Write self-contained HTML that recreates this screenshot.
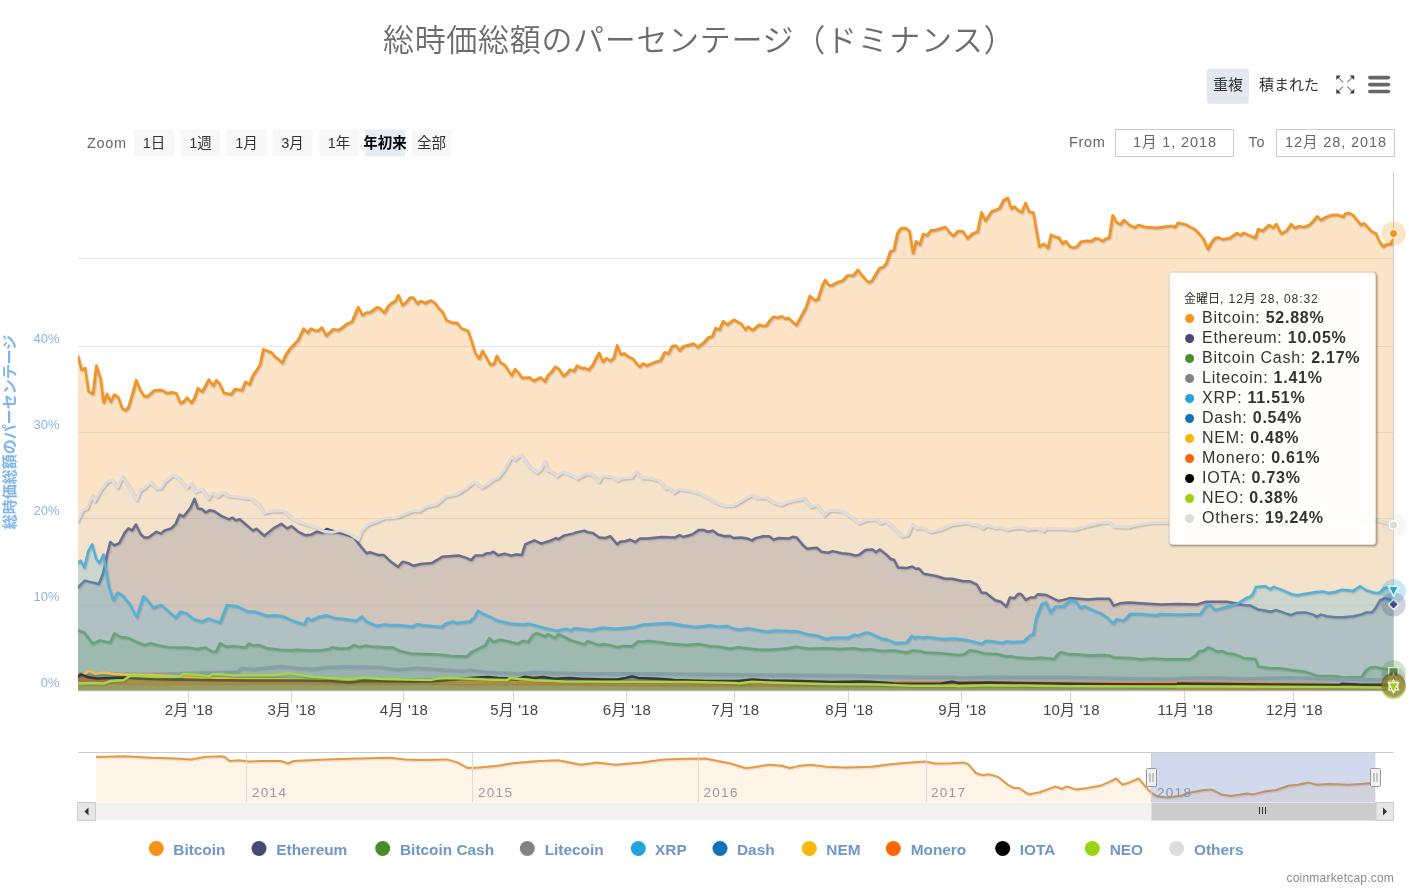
<!DOCTYPE html>
<html lang="ja"><head><meta charset="utf-8"><title>総時価総額のパーセンテージ（ドミナンス）</title>
<style>
html,body{margin:0;padding:0;background:#fff;}
body{width:1409px;height:891px;overflow:hidden;}
svg{display:block;font-family:"Liberation Sans", "Noto Sans CJK JP", sans-serif;}
text{white-space:pre;}
</style></head><body>
<svg width="1409" height="891" viewBox="0 0 1409 891">
<defs><clipPath id="pc"><rect x="78" y="172" width="1315.5" height="519"/></clipPath>
<clipPath id="nc"><rect x="96" y="752" width="1279.5" height="50"/></clipPath>
<filter id="sh" x="-5%" y="-5%" width="110%" height="112%"><feDropShadow dx="1" dy="1.5" stdDeviation="1.5" flood-color="#000" flood-opacity="0.28"/></filter>
</defs>
<rect x="0" y="0" width="1409" height="891" fill="#ffffff"/>

<text x="383" y="50.8" font-size="31" font-weight="350" fill="#6c6c6c" letter-spacing="0.68">総時価総額のパーセンテージ（ドミナンス）</text>
<rect x="1206.7" y="68.7" width="42.3" height="35" rx="3" fill="#e4e7ed"/>
<text x="1228" y="90" text-anchor="middle" font-size="15" fill="#333">重複</text>
<text x="1289" y="90" text-anchor="middle" font-size="15" fill="#333">積まれた</text>
<g stroke="#7a7a7a" stroke-width="1.1" fill="none" stroke-linecap="round">
<path d="M1342.7 81.9 L1337.5 76.7 M1347.7 81.9 L1352.9 76.7 M1342.7 86.9 L1337.5 92.1 M1347.7 86.9 L1352.9 92.1"/></g>
<g fill="#3a3a3a" stroke="none">
<path d="M1336.3 75.4 h4.6 l-4.6 4.6z"/>
<path d="M1354.2 75.4 v4.6 l-4.6 -4.6z"/>
<path d="M1336.3 93.4 v-4.6 l4.6 4.6z"/>
<path d="M1354.2 93.4 h-4.6 l4.6 -4.6z"/>
</g>
<g fill="#666"><rect x="1368" y="75.8" width="22.2" height="3.6" rx="1.8"/><rect x="1368" y="82.8" width="22.2" height="3.6" rx="1.8"/><rect x="1368" y="89.7" width="22.2" height="3.6" rx="1.8"/></g>
<text x="87" y="147.5" font-size="14.5" fill="#666" letter-spacing="0.7">Zoom</text>
<rect x="134" y="129.5" width="40" height="27" rx="2" fill="#f7f7f7"/>
<text x="154" y="147.5" text-anchor="middle" font-size="14.5" fill="#333" font-weight="normal">1日</text>
<rect x="180.5" y="129.5" width="40" height="27" rx="2" fill="#f7f7f7"/>
<text x="200.5" y="147.5" text-anchor="middle" font-size="14.5" fill="#333" font-weight="normal">1週</text>
<rect x="226.5" y="129.5" width="40" height="27" rx="2" fill="#f7f7f7"/>
<text x="246.5" y="147.5" text-anchor="middle" font-size="14.5" fill="#333" font-weight="normal">1月</text>
<rect x="272.5" y="129.5" width="40" height="27" rx="2" fill="#f7f7f7"/>
<text x="292.5" y="147.5" text-anchor="middle" font-size="14.5" fill="#333" font-weight="normal">3月</text>
<rect x="319" y="129.5" width="40" height="27" rx="2" fill="#f7f7f7"/>
<text x="339" y="147.5" text-anchor="middle" font-size="14.5" fill="#333" font-weight="normal">1年</text>
<rect x="365" y="129.5" width="40" height="27" rx="2" fill="#e6ebf5"/>
<text x="385" y="147.5" text-anchor="middle" font-size="14.5" fill="#000" font-weight="bold">年初来</text>
<rect x="411.5" y="129.5" width="40" height="27" rx="2" fill="#f7f7f7"/>
<text x="431.5" y="147.5" text-anchor="middle" font-size="14.5" fill="#333" font-weight="normal">全部</text>
<text x="1069" y="146.5" font-size="14.5" fill="#666" letter-spacing="0.7">From</text>
<rect x="1115.5" y="129.5" width="118" height="27" fill="#fff" stroke="#cccccc" stroke-width="1"/>
<text x="1175" y="146.5" text-anchor="middle" font-size="14.5" fill="#666" letter-spacing="0.9">1月 1, 2018</text>
<text x="1248.5" y="146.5" font-size="14.5" fill="#666" letter-spacing="0.7">To</text>
<rect x="1276.5" y="129.5" width="118" height="27" fill="#fff" stroke="#cccccc" stroke-width="1"/>
<text x="1336" y="146.5" text-anchor="middle" font-size="14.5" fill="#666" letter-spacing="0.9">12月 28, 2018</text>
<path d="M78 258.5 H1393.5" stroke="#e6e6e6" stroke-width="1" fill="none"/>
<path d="M78 346.5 H1393.5" stroke="#e6e6e6" stroke-width="1" fill="none"/>
<path d="M78 432.5 H1393.5" stroke="#e6e6e6" stroke-width="1" fill="none"/>
<path d="M78 518.5 H1393.5" stroke="#e6e6e6" stroke-width="1" fill="none"/>
<path d="M78 605 H1393.5" stroke="#e6e6e6" stroke-width="1" fill="none"/>
<text x="59.5" y="343.0" text-anchor="end" font-size="13" fill="#8db3e2">40%</text>
<text x="59.5" y="429.0" text-anchor="end" font-size="13" fill="#8db3e2">30%</text>
<text x="59.5" y="515.0" text-anchor="end" font-size="13" fill="#8db3e2">20%</text>
<text x="59.5" y="601.0" text-anchor="end" font-size="13" fill="#8db3e2">10%</text>
<text x="59.5" y="687.0" text-anchor="end" font-size="13" fill="#8db3e2">0%</text>
<text transform="translate(15,432) rotate(-90)" text-anchor="middle" font-size="15" font-weight="bold" fill="#7cb5ec">総時価総額のパーセンテージ</text>
<defs>
<path id="L0" d="M78 356.4 L81.4 369.6 L85 368.1 L88.6 391.5 L92.8 393.8 L96.3 365.7 L100.6 379 L103.5 402.4 L106.9 393.8 L110.5 401.6 L114.2 394.6 L118.3 397.4 L122 407.9 L125.3 410.5 L128.3 407.4 L132.6 393.1 L136.1 380.2 L140.5 390.7 L144.4 396.2 L147.5 396.2 L154.5 390.2 L161.5 389.9 L166.7 393.1 L172.5 392.3 L176.4 393.4 L180.3 403.2 L183.4 401.6 L187 397.7 L191.2 402.7 L193.9 399 L197.9 388.1 L202.1 391.8 L208.8 379.5 L213.1 386 L216.2 380.1 L219.3 383.4 L224 393.1 L231 394.3 L234.9 389.1 L241.9 390.2 L245.4 381.8 L249.4 384.5 L252.9 375.1 L256.8 369.6 L259.9 364.6 L263.3 349.3 L271.6 352.5 L275 356.8 L277.9 358.7 L282.1 362.9 L285.7 354.8 L289.6 349 L294.3 343.9 L298 340.3 L303.5 328.6 L307.7 332.8 L310.8 328.6 L315.2 330.6 L318.3 330.6 L321.9 327.5 L326.1 335.6 L333.1 329.3 L337.8 330.1 L340.9 328.6 L346.4 324.2 L351.9 321.5 L358.1 307.2 L362.3 315 L366.7 312.5 L370.1 312.2 L376.9 307.2 L380 308.3 L384.3 312.9 L387.8 306.7 L391.7 302.8 L395.1 301.2 L398.2 295 L402.3 305.1 L405.7 302.5 L409.6 297.8 L413.5 297.8 L417.4 303.6 L420.6 300.9 L424.8 303.1 L430.7 300.4 L434.6 302.8 L439.3 309 L442.9 312.5 L446.3 320.3 L452.6 322.8 L456.9 322.8 L461.2 328.1 L468.2 331.2 L471.3 340.3 L475.2 352.8 L478.8 358.7 L482.6 350.9 L490.4 364.9 L494 363.7 L496.8 355.9 L500.7 362.9 L504.9 365.2 L511.6 375.4 L515 369.1 L518 372.3 L521.9 377.7 L529.7 377.4 L533.3 380.9 L540.6 377.4 L544.9 381.6 L547.7 375.4 L551.1 372.3 L555.2 366.8 L558.9 369.1 L563.3 375.9 L566.4 373.8 L570 369.6 L573.9 371.2 L577 365.6 L581.2 368.1 L585.1 368.1 L588.6 369.9 L592.2 365.6 L598.9 352.8 L602.8 361.8 L606.2 358.2 L610.4 360.9 L613.6 358.2 L617.1 345.4 L620.7 354.3 L624.5 353.5 L628.1 356.7 L632.8 358.7 L636.7 363.7 L639.8 366.8 L642.9 363.4 L646.3 365.6 L655.4 361.8 L660.4 360.6 L664.5 352.3 L668.2 353.5 L671.8 346.5 L675.7 345.4 L679.6 350.4 L683.5 346.2 L693.7 343.7 L697.6 347.3 L703.8 342.6 L708.2 337.5 L712.1 336.4 L715.5 328.1 L719.4 329.6 L722.9 321.2 L727.2 324.6 L733.8 319.7 L738 322.1 L741.4 324 L745 329.4 L748.1 326.8 L752.4 330.2 L759.1 324.8 L763 325.9 L766.1 325.5 L770 320.1 L773.6 316.6 L777.8 317.7 L781.4 316.2 L784.8 318.5 L788.3 318 L796.1 325.2 L805.9 307.6 L809.8 295.9 L814.5 300.2 L817.9 299 L822.3 285.3 L825.1 280 L828.6 284.9 L831.7 285.4 L836.4 282.6 L842.6 280.6 L847 275.6 L853.5 275.3 L857.8 269.8 L862.9 276.4 L866.8 281 L869.2 282.3 L872 280.6 L879.3 268.1 L883.2 267 L886.3 263.4 L890.2 251.4 L893.8 249.8 L897.3 233.4 L899.6 229.5 L901.9 228 L905.8 228.3 L909.4 231.1 L912.9 252.9 L916 241.2 L919.9 244.7 L923 234.2 L926.9 235.3 L930.8 230.3 L934.4 230.3 L945.4 226.9 L949.6 232.6 L953.2 235.8 L958 230.9 L962.7 231.2 L967.4 238.2 L972.1 234 L977.5 231.4 L981.4 212.2 L985.3 220.7 L991.6 211.4 L999.4 208.3 L1003.3 200.4 L1007.7 197.8 L1011.1 208.3 L1014.5 206.7 L1018.6 210.9 L1021.7 212.2 L1025.5 203.1 L1029 211.8 L1033.3 212.5 L1039.2 246.5 L1043.6 243.7 L1047.8 248.1 L1050.9 234.8 L1055.6 237.1 L1058.7 237.5 L1062.3 243.4 L1065.7 241 L1069.6 246.5 L1073.5 247.6 L1076.7 246.8 L1080.6 241.8 L1087.6 240.7 L1091.5 241 L1095.1 238.2 L1098.5 238.7 L1102.4 241 L1105.6 238.7 L1109.1 237.6 L1112.6 215.3 L1116.5 222.3 L1120.4 224.3 L1123.8 220 L1129 224.6 L1134.4 227.5 L1138.3 225 L1145.4 227 L1157.1 227.8 L1165.7 226.5 L1171.1 225.9 L1175 227 L1178 222.8 L1185.4 224.4 L1189.5 226.6 L1194.4 229 L1198.5 233.1 L1203.4 238.9 L1207.8 249.2 L1211.6 242.1 L1214.9 238 L1218.2 237.5 L1222.3 239.2 L1229.6 238 L1237 233.1 L1240.3 235.3 L1243.6 232.8 L1255.1 238 L1258.3 229 L1262.4 231 L1269 224.9 L1272.8 227.7 L1276.4 224.1 L1281 233.6 L1286.2 231 L1291.1 224.1 L1294.7 228.2 L1298.5 226.2 L1304.2 226.9 L1309.2 224.9 L1313.3 220.8 L1317 216.2 L1320.6 220 L1325.6 217.1 L1331.3 215.1 L1337 214.8 L1342.8 216.7 L1345.6 213.4 L1349.3 213 L1353.4 215.6 L1360.8 224.9 L1364.1 223.3 L1371.5 231.5 L1375.6 233.1 L1379.3 241.3 L1382.9 246.7 L1386.2 244.6 L1390.3 244.1 L1393.1 239.7 L1393.5 233.6"/>
<path id="L1" d="M78 587.4 L84.8 580.6 L91.6 582.4 L98.9 584 L103 573.8 L107.1 554.5 L110.2 542 L114.3 545.4 L119.3 543.1 L124.6 532.9 L128.4 528.4 L132.1 530.6 L135.9 524.5 L140.5 534 L143.9 537.4 L148.4 537.4 L156.4 531.8 L160.9 533.6 L164.3 530.6 L171.1 528.4 L175.7 523.8 L179.5 514.7 L183.6 516.5 L190.4 507.9 L194.5 498.8 L197.9 508.6 L201.8 509 L205.6 512.5 L209.7 510.2 L214.3 511.3 L221.1 515.9 L229 519.3 L232.4 517.7 L235.8 520.4 L239.7 519.3 L244.9 523.8 L252.9 530.6 L256.3 528.8 L264.2 535.8 L273.3 528.4 L281.3 523.8 L286.9 528.4 L291.5 526.1 L298.3 531.8 L305.1 535.2 L310.8 534.7 L316.5 531.8 L322.1 532.9 L326.7 529 L333.5 531.3 L346 534.5 L353.9 537.4 L360.8 546.5 L366.4 553.3 L369.8 552.2 L377.8 554.9 L383.5 554.9 L390.3 561.3 L398 567 L402.5 561.7 L408.2 563.1 L413.4 565.8 L420.7 564 L432.1 562.9 L442.3 556.7 L459.3 555.6 L466.1 557.9 L471.1 560.1 L475.2 555.6 L483.2 555.2 L486.6 553.3 L490 553.3 L493.4 551.7 L497.9 555.2 L504.7 553.8 L511.6 555.6 L516.1 554.5 L521.8 554.9 L525.2 544.3 L534.3 540.4 L541.1 543.6 L550.2 540.8 L555.8 538.1 L558.1 539.3 L563.8 535.6 L572.9 533.6 L576.3 532.4 L584.2 530.6 L587.6 532.2 L592.9 532.9 L599 537.4 L604.7 538.1 L610.3 536.3 L617.2 544.3 L620.6 541.5 L625.1 541.3 L629.7 539.7 L635.3 542 L639.9 538.6 L647.8 538.6 L661.4 537 L675.1 537.4 L679.6 535.2 L683 537 L692.1 534.5 L698.9 529.9 L703.5 529.9 L708 531.8 L712.5 530.6 L718 534.5 L724.8 536.3 L729.4 535.8 L733.9 538.1 L740.7 537.4 L747.5 538.6 L752.1 540.4 L755.5 538.1 L763.4 536.3 L769.1 536.3 L773.6 539.7 L778.2 538.1 L788.4 538.6 L792.9 536.8 L796.4 537.4 L803.2 545.4 L807 548.8 L816.8 547.7 L821.3 551.7 L828.1 552.7 L832.7 551.1 L841.8 553.3 L849.7 554 L855.4 555.6 L858.8 554.9 L865.6 549.9 L872.4 549.5 L875.8 552.2 L879.7 549.5 L886.1 554.5 L890.6 559 L894 559.7 L897.9 567.4 L906.5 568.1 L912.2 566.5 L915.6 568.8 L919 568.6 L923.5 573.8 L936 576 L945.1 578.8 L951.9 578.8 L963.3 581.3 L970.1 581.3 L976.9 584.7 L981.4 592.6 L986 593.1 L995.1 600.3 L1000.8 601.7 L1006.4 606.7 L1009.8 597.6 L1014.4 598.3 L1018.2 593.8 L1021.2 594.2 L1025.7 599.9 L1030.3 597.6 L1034.8 597.2 L1038 594.2 L1045.9 594.9 L1051.6 597.6 L1058.4 601 L1063 599.9 L1069.8 598.1 L1078.9 598.8 L1088 599.4 L1097 598.8 L1109.5 598.8 L1113.6 605.6 L1119.8 603.3 L1128.8 602.6 L1140.2 603.3 L1160.6 604.4 L1178.8 604 L1197 604.4 L1206.1 601.7 L1226.5 601.7 L1235.6 603.3 L1242.4 604.9 L1250.3 605.6 L1258 609.4 L1264.8 610.6 L1270.4 611.7 L1276.1 610.1 L1282.9 612.4 L1290.7 615.1 L1296.4 612.8 L1305.4 612.4 L1313.3 614.6 L1316.7 616.9 L1320.8 614.6 L1326.9 616.2 L1334.8 617.3 L1343.8 617.3 L1353.9 616.2 L1361.8 614.4 L1366.3 612.4 L1372 612.2 L1375.4 608.3 L1379.9 600.4 L1384.4 598.2 L1390 599.3 L1393.4 604.3 L1393.5 604.3"/>
<path id="L2" d="M78 630.3 L84.2 632.6 L92.4 643.6 L99.9 640.4 L110 642.8 L114.2 633.4 L120.2 636.9 L128.7 638.1 L136.6 642 L144.4 645.1 L150.6 643.3 L159.2 645.6 L168.6 647.2 L177.9 647.5 L187.3 647.5 L196.7 649 L205.3 647.5 L212.3 651.8 L216.2 651.4 L219.8 643.3 L226.3 646.7 L232.6 645.9 L245.1 647.5 L249 643.6 L252.9 645.6 L259.1 645.1 L266.9 648.3 L279.4 649.8 L290.3 650.3 L298 649.8 L310.5 650.6 L321.4 650.3 L329.2 649 L332.4 647.2 L338.6 648.7 L348 648.3 L354.2 645.1 L358.9 647.2 L365.1 645.6 L372.9 646.7 L379.2 646.7 L385.4 647.5 L391.7 647.2 L399.5 650.9 L410.4 653.4 L422.9 654 L438.5 654.5 L451 656.1 L466.6 656.4 L471.3 652.2 L479.1 648.3 L485.4 645.1 L489.3 638.1 L493.2 642 L500.2 639.7 L507.2 641.2 L518 643.6 L522.7 640.9 L528.1 642 L532.8 635 L536.7 633.1 L545.3 636.5 L547.7 634.2 L554.7 637.8 L558.6 634.2 L571.1 640.4 L584.4 644.4 L587.5 641.2 L599.2 645.1 L603.1 644 L611.7 645.6 L617.9 647.2 L622.6 645.9 L632 646.2 L638.2 641.2 L642.9 641.7 L647.6 640.9 L658.5 642 L667.9 643.6 L686.6 645.1 L697.6 644 L710.1 646.2 L719.4 646.7 L729.6 648.7 L738 647.2 L750.5 648.7 L759.9 649.8 L769.2 649.8 L788 648.3 L795.8 646.7 L808.3 648.7 L825.4 648.3 L839.5 649 L853.5 648.3 L862.9 649.8 L870.7 649.3 L881.6 650.9 L894.1 650.6 L906.6 652.5 L912.1 650.6 L919.1 650.9 L925.4 652.5 L937.9 652.9 L958 655 L963.5 654.5 L969.7 650.3 L975.2 650.9 L984.5 653.4 L997 654 L1006.4 656.5 L1010.3 656.1 L1017.3 657.6 L1031.4 658.4 L1040.8 657.6 L1048.6 658.4 L1054 659.2 L1057.9 654 L1061.1 652.2 L1067.3 654 L1079.8 654.5 L1090.7 655.6 L1101.6 655 L1109.5 655.6 L1114.1 657.6 L1129.8 658.1 L1140.7 659.2 L1153.2 658.4 L1165.7 659.2 L1178 659.2 L1189.5 659.2 L1196 655.1 L1199.3 651 L1203.4 650.7 L1207.5 647.4 L1212.4 649 L1217.3 651.8 L1221.4 651 L1227.2 653.4 L1233.7 653.9 L1243.6 657.9 L1255.1 658.9 L1258.3 666.6 L1269.8 668.2 L1279.6 668.2 L1292.8 670.3 L1304.2 671.5 L1309.2 673.1 L1317.4 675.9 L1333.7 675.9 L1343.6 677.5 L1351.8 677.2 L1361.6 676.9 L1365.7 670.7 L1369.8 667.4 L1374.7 667.1 L1382.9 668.7 L1389.5 669.8 L1393.5 670.7"/>
<path id="L3" d="M78 673.2 L109.2 673.7 L156.1 674 L199.8 672.5 L237.3 671.7 L241.9 668.1 L254.4 669 L265.4 667.8 L281 665.9 L298 668.1 L313.6 669 L326.1 667 L348 666.2 L379.2 667 L397.9 669.6 L416.7 667.8 L438.5 669.3 L461.9 670.9 L469.8 670.1 L485.4 671.7 L516.6 673.2 L518 673.2 L533.6 672.1 L580.5 673.2 L642.9 673.2 L736.6 674.3 L738 674.3 L800.5 674.8 L862.9 675.6 L909.8 676.8 L956.6 677.1 L958 677.5 L989.2 676.8 L1020.5 677.1 L1067.3 677.1 L1114.1 677.9 L1176.6 678.7 L1178 678 L1210.8 677.2 L1243.6 678.5 L1292.8 677.2 L1325.6 678.5 L1358.3 678.9 L1393.5 679.7"/>
<path id="L4" d="M78 562.4 L80.7 560.8 L84.4 567.6 L88.2 551.1 L92.1 544.3 L96.2 559 L99.6 562.9 L103.4 554.5 L105.7 568.1 L108.7 586.3 L113.2 599.9 L117.7 592.6 L122.3 595.4 L129.1 603.3 L136.6 616.9 L143.4 596.5 L147.3 599.9 L152.9 607.8 L160.9 604.9 L167.7 610.8 L175.7 617.6 L180.2 611.7 L185.9 613.1 L193.8 619.2 L201.8 621.5 L208.6 618.5 L214.3 620.8 L219.9 622.6 L226.8 605.1 L237 606.3 L247.2 611.2 L255.1 611.7 L266.5 615.8 L275.6 615.3 L282.4 616.2 L291.5 620.3 L304 624.4 L307.4 618.1 L310.8 620.3 L318.7 616.9 L326.7 615.3 L334.6 618.1 L346 619.2 L356.2 620.8 L361.9 616.5 L366.4 621.5 L376.7 626 L384.6 624.4 L391.4 625.3 L398 624.9 L407.1 626 L411.6 626.7 L417.3 624.2 L423 625.3 L441.2 627.1 L445.7 623.7 L452.5 621.5 L457 623.1 L461.6 622.2 L469.5 621.5 L474.1 617.6 L477.9 610.8 L483.2 614 L488.8 616.2 L497.9 620.8 L511.6 623.7 L524 624.4 L528.6 623.7 L543.4 627.8 L557 630.6 L566.1 628.7 L570.6 630.6 L574 628.3 L591 630.1 L602.4 627.8 L616 628.7 L634.2 627.1 L643.3 624.4 L669.4 623.1 L681.9 625.3 L695.5 627.1 L710.3 625.3 L718 626.7 L727.1 626 L733.9 628.7 L740.7 629.4 L747.5 628.3 L766.8 631.7 L774.8 630.6 L796.4 631.2 L808.8 634.6 L817.9 635.8 L825.9 639 L831.6 637.8 L847.5 637.8 L854.3 634.6 L857.7 635.6 L864.5 632.8 L869 632.8 L881.5 638.5 L887.2 639.6 L895.1 643 L906.5 642.6 L911.7 635.8 L914.5 638 L917.9 636.7 L922.4 637.8 L926.9 636.9 L942.8 639 L954.2 638.5 L967.8 640.3 L981.4 643.7 L986 640.8 L991.7 641.2 L1001.9 643 L1006.4 641.5 L1013.2 641.9 L1023.5 641.5 L1030.3 635.1 L1033.2 634.4 L1036 618.1 L1038 613.5 L1041.4 604.4 L1045.9 602.6 L1050.5 612.4 L1055 606.7 L1063 606.3 L1069.8 601 L1075.5 601 L1080 607.8 L1084.6 606.3 L1092.5 610.1 L1101.6 614 L1107.3 617.6 L1112.9 623.7 L1116.4 619.2 L1123.2 620.8 L1130 614 L1140.2 614 L1156.1 615.3 L1160.6 614 L1178.8 614.7 L1200.4 614 L1207.2 604.4 L1210.6 605.6 L1215.1 610.1 L1226.5 606.7 L1236.7 604 L1243.5 599.9 L1246.9 597.6 L1249 597.5 L1252.4 594.8 L1255.8 586.9 L1264.8 586.2 L1270.4 589.1 L1273.8 586.9 L1282.9 590.3 L1291.9 594.3 L1297.5 595.2 L1305.4 593.7 L1316.7 592.1 L1323.5 591.4 L1328 593 L1334.8 592.1 L1341.5 589.8 L1347.2 590.3 L1352.8 590.9 L1360 586.2 L1366.3 590.3 L1373.1 592.5 L1378.8 593 L1384.4 588 L1390 586.9 L1393.4 590.3 L1393.5 590.3"/>
<path id="L5" d="M78 674.8 L124.8 677.1 L296.6 678.7 L298 678.7 L516.6 680.3 L518 680.3 L736.6 682.1 L738 682.1 L956.6 683.1 L958 683.1 L1176.6 683.4 L1178 685.1 L1393.5 686.2"/>
<path id="L6" d="M78 675.6 L85.8 673.2 L88.9 670.9 L95.2 673.7 L104.5 672.5 L113.9 674 L128 674.8 L140.5 674.8 L156.1 675.3 L179.5 676.4 L202.9 677.9 L234.1 678.7 L296.6 679.5 L298 679.5 L344.8 681 L516.6 682.1 L518 682.1 L736.6 683.7 L738 683.7 L956.6 684.6 L958 684.6 L1176.6 684.9 L1178 688.4 L1393.5 686.9"/>
<path id="L7" d="M78 678.7 L124.8 682.6 L296.6 682.6 L298 682.6 L516.6 683.1 L518 683.1 L736.6 684.2 L738 684.2 L847.3 684.6 L894.1 682.6 L956.6 682.6 L958 682.6 L973.6 682.1 L1020.5 682.6 L1114.1 683.1 L1176.6 683.1 L1178 682.5 L1276.4 683.4 L1341.9 684.6 L1393.5 685.7"/>
<path id="L8" d="M78 676.4 L81.1 674.3 L87.4 677.1 L96.7 678.4 L109.2 677.9 L124.8 677.5 L140.5 678.7 L171.7 679.5 L218.5 680.3 L296.6 680.6 L298 680.6 L329.2 681 L349.5 682.6 L363.6 681 L391.7 681.5 L430.7 681.5 L446.3 680.3 L460.4 678.7 L477.6 677.5 L488.5 677.1 L497.9 677.9 L508.8 678.4 L516.6 679.5 L518 678.7 L525 676.8 L533.6 677.9 L543 677.1 L553.9 678.7 L569.5 677.9 L580.5 678.7 L603.9 679.5 L617.9 679.5 L625.7 677.9 L632 676.4 L638.2 677.9 L658.5 678.7 L674.1 680 L705.4 681 L736.6 681 L738 681 L752.1 679.5 L769.2 680.6 L800.5 681 L831.7 682.1 L859.8 681.5 L870.7 681.8 L894.1 683.4 L925.4 683.7 L941 683.4 L951.9 681.8 L956.6 682.6 L958 683.1 L989.2 682.6 L1051.7 683.4 L1114.1 684.2 L1176.6 684.6 L1178 683.4 L1276.4 684.6 L1338.7 685.1 L1341.9 683.8 L1358.3 684.6 L1393.5 684.8"/>
<path id="L9" d="M78 683.4 L93.6 683.1 L104.5 683.4 L110.8 681 L123.3 680.3 L130.3 675.9 L140.5 675.9 L156.1 677.1 L179.5 676.8 L183.4 674 L196.7 674.8 L209.2 676.4 L212.3 674.3 L221.6 674.3 L234.1 675.6 L249.8 675.3 L273.2 675.3 L288.8 673.2 L296.6 674.3 L298 674.8 L313.6 677.1 L344.8 678.7 L354.2 678.7 L363.6 677.5 L379.2 678.7 L407.3 679.5 L430.7 680 L438.5 678.4 L447.9 677.9 L469.8 678.7 L485.4 679.5 L507.2 680 L510.3 677.9 L516.6 678.7 L518 678.7 L533.6 680.3 L564.8 681.5 L627.3 681.8 L689.8 682.1 L736.6 683.1 L738 683.4 L752.1 681.8 L784.8 683.1 L831.7 684.2 L878.5 684.6 L909.8 685.7 L956.6 685.7 L958 686.2 L989.2 685.3 L1067.3 686.2 L1176.6 686.5 L1178 686.2 L1325.6 687.1 L1393.5 687.7"/>
<path id="L10" d="M78 520.4 L83 510.2 L87.1 508.6 L92.1 495.4 L95 501.1 L100.7 490.4 L107.5 481.8 L112.1 480.2 L117.7 487.5 L122.3 476.8 L126.8 483.6 L131.4 490.4 L136.6 500 L140.5 490.4 L143.9 488.6 L150.7 482.5 L156.4 488.6 L160.9 488.2 L165.4 481.3 L173.4 475 L177.9 477.7 L183.6 484.1 L187 487.5 L191.1 483.6 L195.6 492 L201.8 489.1 L208.6 498.8 L212.4 493.2 L217.7 496.6 L223.8 492.5 L227.9 496.1 L234.7 496.6 L241.5 497.7 L250.6 498.4 L258.6 504.5 L264.2 513.1 L271 511.3 L283.5 510.9 L291.5 518.1 L299.4 522.2 L314.2 526.8 L323.3 531.3 L332.4 532.2 L340.3 530.6 L350.5 534.5 L358.5 539.7 L361.9 530.6 L367.6 524.9 L375.5 522.2 L384.6 518.1 L391.4 517.7 L398 517 L405.9 513.6 L412.8 510.9 L419.6 510.9 L426.4 506.8 L436.6 504.5 L445.7 496.6 L457 494.3 L466.1 488.6 L474.1 481.8 L482 487.5 L487.7 484.1 L493.4 479.5 L497.9 478.4 L504.7 469.3 L511.6 456.8 L515 459.5 L520.6 455 L525.2 460.9 L529.7 467 L537 472.7 L541.1 469.3 L544.5 461.4 L547.9 470.4 L551.3 471.6 L557 476.1 L562.7 472 L568.3 473.8 L577.4 478.4 L586.5 473.8 L592.2 474.5 L599 481.8 L602.4 476.1 L611.5 476.8 L617.2 480.7 L621.7 478.4 L631.9 477.3 L636 472 L642.1 477.7 L650.1 478.4 L659.2 480.7 L666 488.6 L668.3 487.5 L673.9 492.7 L679.6 489.1 L689.8 490.9 L700.1 493.6 L708 497.7 L718 503.4 L724.8 505.6 L733.9 505.6 L745.3 498.8 L752.1 495 L756.6 498.1 L766.8 497.7 L773.6 502.7 L781.6 505 L788.4 501.8 L796.4 500 L804.3 498.8 L811.1 506.8 L816.8 505 L824.7 515.4 L829.3 510.2 L842.9 511.3 L852 517.7 L858.8 523.1 L867.9 520 L875.8 519.3 L880.4 523.1 L886.1 521.5 L892.9 527.2 L902 536.3 L907.6 535.2 L912.2 524.9 L916.7 528.4 L921.3 527.7 L931.5 531.8 L942.8 529 L951.9 524.9 L966.7 522.7 L972.4 524.9 L976.9 524.5 L982.6 528.4 L987.1 525.6 L995.1 527.7 L999.6 527.2 L1007.6 529.9 L1013.2 528.4 L1021.2 527.7 L1028 529.5 L1038 528.4 L1043.7 531.1 L1047.1 528.4 L1060.7 528.8 L1074.3 529.5 L1092.5 524.9 L1101.6 522.7 L1109.5 522.2 L1114.1 526.8 L1128.8 527.2 L1137.9 524.9 L1151.6 522.7 L1168.6 522.2 L1197 522.7 L1242.4 522.2 L1287.8 523.1 L1333.2 522.2 L1358 521.8 L1361.8 519.2 L1375.4 519.9 L1384.4 522.6 L1393.4 524.4 L1393.5 524.4"/>
</defs>
<g clip-path="url(#pc)" fill="none" stroke-linejoin="round" stroke-linecap="round">
<path d="M78 356.4 L81.4 369.6 L85 368.1 L88.6 391.5 L92.8 393.8 L96.3 365.7 L100.6 379 L103.5 402.4 L106.9 393.8 L110.5 401.6 L114.2 394.6 L118.3 397.4 L122 407.9 L125.3 410.5 L128.3 407.4 L132.6 393.1 L136.1 380.2 L140.5 390.7 L144.4 396.2 L147.5 396.2 L154.5 390.2 L161.5 389.9 L166.7 393.1 L172.5 392.3 L176.4 393.4 L180.3 403.2 L183.4 401.6 L187 397.7 L191.2 402.7 L193.9 399 L197.9 388.1 L202.1 391.8 L208.8 379.5 L213.1 386 L216.2 380.1 L219.3 383.4 L224 393.1 L231 394.3 L234.9 389.1 L241.9 390.2 L245.4 381.8 L249.4 384.5 L252.9 375.1 L256.8 369.6 L259.9 364.6 L263.3 349.3 L271.6 352.5 L275 356.8 L277.9 358.7 L282.1 362.9 L285.7 354.8 L289.6 349 L294.3 343.9 L298 340.3 L303.5 328.6 L307.7 332.8 L310.8 328.6 L315.2 330.6 L318.3 330.6 L321.9 327.5 L326.1 335.6 L333.1 329.3 L337.8 330.1 L340.9 328.6 L346.4 324.2 L351.9 321.5 L358.1 307.2 L362.3 315 L366.7 312.5 L370.1 312.2 L376.9 307.2 L380 308.3 L384.3 312.9 L387.8 306.7 L391.7 302.8 L395.1 301.2 L398.2 295 L402.3 305.1 L405.7 302.5 L409.6 297.8 L413.5 297.8 L417.4 303.6 L420.6 300.9 L424.8 303.1 L430.7 300.4 L434.6 302.8 L439.3 309 L442.9 312.5 L446.3 320.3 L452.6 322.8 L456.9 322.8 L461.2 328.1 L468.2 331.2 L471.3 340.3 L475.2 352.8 L478.8 358.7 L482.6 350.9 L490.4 364.9 L494 363.7 L496.8 355.9 L500.7 362.9 L504.9 365.2 L511.6 375.4 L515 369.1 L518 372.3 L521.9 377.7 L529.7 377.4 L533.3 380.9 L540.6 377.4 L544.9 381.6 L547.7 375.4 L551.1 372.3 L555.2 366.8 L558.9 369.1 L563.3 375.9 L566.4 373.8 L570 369.6 L573.9 371.2 L577 365.6 L581.2 368.1 L585.1 368.1 L588.6 369.9 L592.2 365.6 L598.9 352.8 L602.8 361.8 L606.2 358.2 L610.4 360.9 L613.6 358.2 L617.1 345.4 L620.7 354.3 L624.5 353.5 L628.1 356.7 L632.8 358.7 L636.7 363.7 L639.8 366.8 L642.9 363.4 L646.3 365.6 L655.4 361.8 L660.4 360.6 L664.5 352.3 L668.2 353.5 L671.8 346.5 L675.7 345.4 L679.6 350.4 L683.5 346.2 L693.7 343.7 L697.6 347.3 L703.8 342.6 L708.2 337.5 L712.1 336.4 L715.5 328.1 L719.4 329.6 L722.9 321.2 L727.2 324.6 L733.8 319.7 L738 322.1 L741.4 324 L745 329.4 L748.1 326.8 L752.4 330.2 L759.1 324.8 L763 325.9 L766.1 325.5 L770 320.1 L773.6 316.6 L777.8 317.7 L781.4 316.2 L784.8 318.5 L788.3 318 L796.1 325.2 L805.9 307.6 L809.8 295.9 L814.5 300.2 L817.9 299 L822.3 285.3 L825.1 280 L828.6 284.9 L831.7 285.4 L836.4 282.6 L842.6 280.6 L847 275.6 L853.5 275.3 L857.8 269.8 L862.9 276.4 L866.8 281 L869.2 282.3 L872 280.6 L879.3 268.1 L883.2 267 L886.3 263.4 L890.2 251.4 L893.8 249.8 L897.3 233.4 L899.6 229.5 L901.9 228 L905.8 228.3 L909.4 231.1 L912.9 252.9 L916 241.2 L919.9 244.7 L923 234.2 L926.9 235.3 L930.8 230.3 L934.4 230.3 L945.4 226.9 L949.6 232.6 L953.2 235.8 L958 230.9 L962.7 231.2 L967.4 238.2 L972.1 234 L977.5 231.4 L981.4 212.2 L985.3 220.7 L991.6 211.4 L999.4 208.3 L1003.3 200.4 L1007.7 197.8 L1011.1 208.3 L1014.5 206.7 L1018.6 210.9 L1021.7 212.2 L1025.5 203.1 L1029 211.8 L1033.3 212.5 L1039.2 246.5 L1043.6 243.7 L1047.8 248.1 L1050.9 234.8 L1055.6 237.1 L1058.7 237.5 L1062.3 243.4 L1065.7 241 L1069.6 246.5 L1073.5 247.6 L1076.7 246.8 L1080.6 241.8 L1087.6 240.7 L1091.5 241 L1095.1 238.2 L1098.5 238.7 L1102.4 241 L1105.6 238.7 L1109.1 237.6 L1112.6 215.3 L1116.5 222.3 L1120.4 224.3 L1123.8 220 L1129 224.6 L1134.4 227.5 L1138.3 225 L1145.4 227 L1157.1 227.8 L1165.7 226.5 L1171.1 225.9 L1175 227 L1178 222.8 L1185.4 224.4 L1189.5 226.6 L1194.4 229 L1198.5 233.1 L1203.4 238.9 L1207.8 249.2 L1211.6 242.1 L1214.9 238 L1218.2 237.5 L1222.3 239.2 L1229.6 238 L1237 233.1 L1240.3 235.3 L1243.6 232.8 L1255.1 238 L1258.3 229 L1262.4 231 L1269 224.9 L1272.8 227.7 L1276.4 224.1 L1281 233.6 L1286.2 231 L1291.1 224.1 L1294.7 228.2 L1298.5 226.2 L1304.2 226.9 L1309.2 224.9 L1313.3 220.8 L1317 216.2 L1320.6 220 L1325.6 217.1 L1331.3 215.1 L1337 214.8 L1342.8 216.7 L1345.6 213.4 L1349.3 213 L1353.4 215.6 L1360.8 224.9 L1364.1 223.3 L1371.5 231.5 L1375.6 233.1 L1379.3 241.3 L1382.9 246.7 L1386.2 244.6 L1390.3 244.1 L1393.1 239.7 L1393.5 233.6 L1393.5 691 L78 691 Z" fill="#f7931a" fill-opacity="0.25" stroke="none"/>
<use href="#L0" transform="translate(1,1)" stroke="#000" stroke-opacity="0.05" stroke-width="5"/>
<use href="#L0" transform="translate(1,1)" stroke="#000" stroke-opacity="0.1" stroke-width="3"/>
<use href="#L0" transform="translate(1,1)" stroke="#000" stroke-opacity="0.15" stroke-width="1"/>
<use href="#L0" stroke="#f7931a" stroke-width="2.5"/>
<path d="M78 587.4 L84.8 580.6 L91.6 582.4 L98.9 584 L103 573.8 L107.1 554.5 L110.2 542 L114.3 545.4 L119.3 543.1 L124.6 532.9 L128.4 528.4 L132.1 530.6 L135.9 524.5 L140.5 534 L143.9 537.4 L148.4 537.4 L156.4 531.8 L160.9 533.6 L164.3 530.6 L171.1 528.4 L175.7 523.8 L179.5 514.7 L183.6 516.5 L190.4 507.9 L194.5 498.8 L197.9 508.6 L201.8 509 L205.6 512.5 L209.7 510.2 L214.3 511.3 L221.1 515.9 L229 519.3 L232.4 517.7 L235.8 520.4 L239.7 519.3 L244.9 523.8 L252.9 530.6 L256.3 528.8 L264.2 535.8 L273.3 528.4 L281.3 523.8 L286.9 528.4 L291.5 526.1 L298.3 531.8 L305.1 535.2 L310.8 534.7 L316.5 531.8 L322.1 532.9 L326.7 529 L333.5 531.3 L346 534.5 L353.9 537.4 L360.8 546.5 L366.4 553.3 L369.8 552.2 L377.8 554.9 L383.5 554.9 L390.3 561.3 L398 567 L402.5 561.7 L408.2 563.1 L413.4 565.8 L420.7 564 L432.1 562.9 L442.3 556.7 L459.3 555.6 L466.1 557.9 L471.1 560.1 L475.2 555.6 L483.2 555.2 L486.6 553.3 L490 553.3 L493.4 551.7 L497.9 555.2 L504.7 553.8 L511.6 555.6 L516.1 554.5 L521.8 554.9 L525.2 544.3 L534.3 540.4 L541.1 543.6 L550.2 540.8 L555.8 538.1 L558.1 539.3 L563.8 535.6 L572.9 533.6 L576.3 532.4 L584.2 530.6 L587.6 532.2 L592.9 532.9 L599 537.4 L604.7 538.1 L610.3 536.3 L617.2 544.3 L620.6 541.5 L625.1 541.3 L629.7 539.7 L635.3 542 L639.9 538.6 L647.8 538.6 L661.4 537 L675.1 537.4 L679.6 535.2 L683 537 L692.1 534.5 L698.9 529.9 L703.5 529.9 L708 531.8 L712.5 530.6 L718 534.5 L724.8 536.3 L729.4 535.8 L733.9 538.1 L740.7 537.4 L747.5 538.6 L752.1 540.4 L755.5 538.1 L763.4 536.3 L769.1 536.3 L773.6 539.7 L778.2 538.1 L788.4 538.6 L792.9 536.8 L796.4 537.4 L803.2 545.4 L807 548.8 L816.8 547.7 L821.3 551.7 L828.1 552.7 L832.7 551.1 L841.8 553.3 L849.7 554 L855.4 555.6 L858.8 554.9 L865.6 549.9 L872.4 549.5 L875.8 552.2 L879.7 549.5 L886.1 554.5 L890.6 559 L894 559.7 L897.9 567.4 L906.5 568.1 L912.2 566.5 L915.6 568.8 L919 568.6 L923.5 573.8 L936 576 L945.1 578.8 L951.9 578.8 L963.3 581.3 L970.1 581.3 L976.9 584.7 L981.4 592.6 L986 593.1 L995.1 600.3 L1000.8 601.7 L1006.4 606.7 L1009.8 597.6 L1014.4 598.3 L1018.2 593.8 L1021.2 594.2 L1025.7 599.9 L1030.3 597.6 L1034.8 597.2 L1038 594.2 L1045.9 594.9 L1051.6 597.6 L1058.4 601 L1063 599.9 L1069.8 598.1 L1078.9 598.8 L1088 599.4 L1097 598.8 L1109.5 598.8 L1113.6 605.6 L1119.8 603.3 L1128.8 602.6 L1140.2 603.3 L1160.6 604.4 L1178.8 604 L1197 604.4 L1206.1 601.7 L1226.5 601.7 L1235.6 603.3 L1242.4 604.9 L1250.3 605.6 L1258 609.4 L1264.8 610.6 L1270.4 611.7 L1276.1 610.1 L1282.9 612.4 L1290.7 615.1 L1296.4 612.8 L1305.4 612.4 L1313.3 614.6 L1316.7 616.9 L1320.8 614.6 L1326.9 616.2 L1334.8 617.3 L1343.8 617.3 L1353.9 616.2 L1361.8 614.4 L1366.3 612.4 L1372 612.2 L1375.4 608.3 L1379.9 600.4 L1384.4 598.2 L1390 599.3 L1393.4 604.3 L1393.5 604.3 L1393.5 691 L78 691 Z" fill="#454a75" fill-opacity="0.25" stroke="none"/>
<use href="#L1" transform="translate(1,1)" stroke="#000" stroke-opacity="0.05" stroke-width="5"/>
<use href="#L1" transform="translate(1,1)" stroke="#000" stroke-opacity="0.1" stroke-width="3"/>
<use href="#L1" transform="translate(1,1)" stroke="#000" stroke-opacity="0.15" stroke-width="1"/>
<use href="#L1" stroke="#454a75" stroke-width="2.5"/>
<path d="M78 630.3 L84.2 632.6 L92.4 643.6 L99.9 640.4 L110 642.8 L114.2 633.4 L120.2 636.9 L128.7 638.1 L136.6 642 L144.4 645.1 L150.6 643.3 L159.2 645.6 L168.6 647.2 L177.9 647.5 L187.3 647.5 L196.7 649 L205.3 647.5 L212.3 651.8 L216.2 651.4 L219.8 643.3 L226.3 646.7 L232.6 645.9 L245.1 647.5 L249 643.6 L252.9 645.6 L259.1 645.1 L266.9 648.3 L279.4 649.8 L290.3 650.3 L298 649.8 L310.5 650.6 L321.4 650.3 L329.2 649 L332.4 647.2 L338.6 648.7 L348 648.3 L354.2 645.1 L358.9 647.2 L365.1 645.6 L372.9 646.7 L379.2 646.7 L385.4 647.5 L391.7 647.2 L399.5 650.9 L410.4 653.4 L422.9 654 L438.5 654.5 L451 656.1 L466.6 656.4 L471.3 652.2 L479.1 648.3 L485.4 645.1 L489.3 638.1 L493.2 642 L500.2 639.7 L507.2 641.2 L518 643.6 L522.7 640.9 L528.1 642 L532.8 635 L536.7 633.1 L545.3 636.5 L547.7 634.2 L554.7 637.8 L558.6 634.2 L571.1 640.4 L584.4 644.4 L587.5 641.2 L599.2 645.1 L603.1 644 L611.7 645.6 L617.9 647.2 L622.6 645.9 L632 646.2 L638.2 641.2 L642.9 641.7 L647.6 640.9 L658.5 642 L667.9 643.6 L686.6 645.1 L697.6 644 L710.1 646.2 L719.4 646.7 L729.6 648.7 L738 647.2 L750.5 648.7 L759.9 649.8 L769.2 649.8 L788 648.3 L795.8 646.7 L808.3 648.7 L825.4 648.3 L839.5 649 L853.5 648.3 L862.9 649.8 L870.7 649.3 L881.6 650.9 L894.1 650.6 L906.6 652.5 L912.1 650.6 L919.1 650.9 L925.4 652.5 L937.9 652.9 L958 655 L963.5 654.5 L969.7 650.3 L975.2 650.9 L984.5 653.4 L997 654 L1006.4 656.5 L1010.3 656.1 L1017.3 657.6 L1031.4 658.4 L1040.8 657.6 L1048.6 658.4 L1054 659.2 L1057.9 654 L1061.1 652.2 L1067.3 654 L1079.8 654.5 L1090.7 655.6 L1101.6 655 L1109.5 655.6 L1114.1 657.6 L1129.8 658.1 L1140.7 659.2 L1153.2 658.4 L1165.7 659.2 L1178 659.2 L1189.5 659.2 L1196 655.1 L1199.3 651 L1203.4 650.7 L1207.5 647.4 L1212.4 649 L1217.3 651.8 L1221.4 651 L1227.2 653.4 L1233.7 653.9 L1243.6 657.9 L1255.1 658.9 L1258.3 666.6 L1269.8 668.2 L1279.6 668.2 L1292.8 670.3 L1304.2 671.5 L1309.2 673.1 L1317.4 675.9 L1333.7 675.9 L1343.6 677.5 L1351.8 677.2 L1361.6 676.9 L1365.7 670.7 L1369.8 667.4 L1374.7 667.1 L1382.9 668.7 L1389.5 669.8 L1393.5 670.7 L1393.5 691 L78 691 Z" fill="#478e2b" fill-opacity="0.25" stroke="none"/>
<use href="#L2" transform="translate(1,1)" stroke="#000" stroke-opacity="0.05" stroke-width="5"/>
<use href="#L2" transform="translate(1,1)" stroke="#000" stroke-opacity="0.1" stroke-width="3"/>
<use href="#L2" transform="translate(1,1)" stroke="#000" stroke-opacity="0.15" stroke-width="1"/>
<use href="#L2" stroke="#478e2b" stroke-width="2.5"/>
<path d="M78 673.2 L109.2 673.7 L156.1 674 L199.8 672.5 L237.3 671.7 L241.9 668.1 L254.4 669 L265.4 667.8 L281 665.9 L298 668.1 L313.6 669 L326.1 667 L348 666.2 L379.2 667 L397.9 669.6 L416.7 667.8 L438.5 669.3 L461.9 670.9 L469.8 670.1 L485.4 671.7 L516.6 673.2 L518 673.2 L533.6 672.1 L580.5 673.2 L642.9 673.2 L736.6 674.3 L738 674.3 L800.5 674.8 L862.9 675.6 L909.8 676.8 L956.6 677.1 L958 677.5 L989.2 676.8 L1020.5 677.1 L1067.3 677.1 L1114.1 677.9 L1176.6 678.7 L1178 678 L1210.8 677.2 L1243.6 678.5 L1292.8 677.2 L1325.6 678.5 L1358.3 678.9 L1393.5 679.7 L1393.5 691 L78 691 Z" fill="#838383" fill-opacity="0.25" stroke="none"/>
<use href="#L3" transform="translate(1,1)" stroke="#000" stroke-opacity="0.05" stroke-width="5"/>
<use href="#L3" transform="translate(1,1)" stroke="#000" stroke-opacity="0.1" stroke-width="3"/>
<use href="#L3" transform="translate(1,1)" stroke="#000" stroke-opacity="0.15" stroke-width="1"/>
<use href="#L3" stroke="#838383" stroke-width="2.5"/>
<path d="M78 562.4 L80.7 560.8 L84.4 567.6 L88.2 551.1 L92.1 544.3 L96.2 559 L99.6 562.9 L103.4 554.5 L105.7 568.1 L108.7 586.3 L113.2 599.9 L117.7 592.6 L122.3 595.4 L129.1 603.3 L136.6 616.9 L143.4 596.5 L147.3 599.9 L152.9 607.8 L160.9 604.9 L167.7 610.8 L175.7 617.6 L180.2 611.7 L185.9 613.1 L193.8 619.2 L201.8 621.5 L208.6 618.5 L214.3 620.8 L219.9 622.6 L226.8 605.1 L237 606.3 L247.2 611.2 L255.1 611.7 L266.5 615.8 L275.6 615.3 L282.4 616.2 L291.5 620.3 L304 624.4 L307.4 618.1 L310.8 620.3 L318.7 616.9 L326.7 615.3 L334.6 618.1 L346 619.2 L356.2 620.8 L361.9 616.5 L366.4 621.5 L376.7 626 L384.6 624.4 L391.4 625.3 L398 624.9 L407.1 626 L411.6 626.7 L417.3 624.2 L423 625.3 L441.2 627.1 L445.7 623.7 L452.5 621.5 L457 623.1 L461.6 622.2 L469.5 621.5 L474.1 617.6 L477.9 610.8 L483.2 614 L488.8 616.2 L497.9 620.8 L511.6 623.7 L524 624.4 L528.6 623.7 L543.4 627.8 L557 630.6 L566.1 628.7 L570.6 630.6 L574 628.3 L591 630.1 L602.4 627.8 L616 628.7 L634.2 627.1 L643.3 624.4 L669.4 623.1 L681.9 625.3 L695.5 627.1 L710.3 625.3 L718 626.7 L727.1 626 L733.9 628.7 L740.7 629.4 L747.5 628.3 L766.8 631.7 L774.8 630.6 L796.4 631.2 L808.8 634.6 L817.9 635.8 L825.9 639 L831.6 637.8 L847.5 637.8 L854.3 634.6 L857.7 635.6 L864.5 632.8 L869 632.8 L881.5 638.5 L887.2 639.6 L895.1 643 L906.5 642.6 L911.7 635.8 L914.5 638 L917.9 636.7 L922.4 637.8 L926.9 636.9 L942.8 639 L954.2 638.5 L967.8 640.3 L981.4 643.7 L986 640.8 L991.7 641.2 L1001.9 643 L1006.4 641.5 L1013.2 641.9 L1023.5 641.5 L1030.3 635.1 L1033.2 634.4 L1036 618.1 L1038 613.5 L1041.4 604.4 L1045.9 602.6 L1050.5 612.4 L1055 606.7 L1063 606.3 L1069.8 601 L1075.5 601 L1080 607.8 L1084.6 606.3 L1092.5 610.1 L1101.6 614 L1107.3 617.6 L1112.9 623.7 L1116.4 619.2 L1123.2 620.8 L1130 614 L1140.2 614 L1156.1 615.3 L1160.6 614 L1178.8 614.7 L1200.4 614 L1207.2 604.4 L1210.6 605.6 L1215.1 610.1 L1226.5 606.7 L1236.7 604 L1243.5 599.9 L1246.9 597.6 L1249 597.5 L1252.4 594.8 L1255.8 586.9 L1264.8 586.2 L1270.4 589.1 L1273.8 586.9 L1282.9 590.3 L1291.9 594.3 L1297.5 595.2 L1305.4 593.7 L1316.7 592.1 L1323.5 591.4 L1328 593 L1334.8 592.1 L1341.5 589.8 L1347.2 590.3 L1352.8 590.9 L1360 586.2 L1366.3 590.3 L1373.1 592.5 L1378.8 593 L1384.4 588 L1390 586.9 L1393.4 590.3 L1393.5 590.3 L1393.5 691 L78 691 Z" fill="#23a5dc" fill-opacity="0.25" stroke="none"/>
<use href="#L4" transform="translate(1,1)" stroke="#000" stroke-opacity="0.05" stroke-width="5"/>
<use href="#L4" transform="translate(1,1)" stroke="#000" stroke-opacity="0.1" stroke-width="3"/>
<use href="#L4" transform="translate(1,1)" stroke="#000" stroke-opacity="0.15" stroke-width="1"/>
<use href="#L4" stroke="#23a5dc" stroke-width="2.5"/>
<path d="M78 674.8 L124.8 677.1 L296.6 678.7 L298 678.7 L516.6 680.3 L518 680.3 L736.6 682.1 L738 682.1 L956.6 683.1 L958 683.1 L1176.6 683.4 L1178 685.1 L1393.5 686.2 L1393.5 691 L78 691 Z" fill="#0f72b9" fill-opacity="0.25" stroke="none"/>
<use href="#L5" transform="translate(1,1)" stroke="#000" stroke-opacity="0.05" stroke-width="5"/>
<use href="#L5" transform="translate(1,1)" stroke="#000" stroke-opacity="0.1" stroke-width="3"/>
<use href="#L5" transform="translate(1,1)" stroke="#000" stroke-opacity="0.15" stroke-width="1"/>
<use href="#L5" stroke="#0f72b9" stroke-width="2.5"/>
<path d="M78 675.6 L85.8 673.2 L88.9 670.9 L95.2 673.7 L104.5 672.5 L113.9 674 L128 674.8 L140.5 674.8 L156.1 675.3 L179.5 676.4 L202.9 677.9 L234.1 678.7 L296.6 679.5 L298 679.5 L344.8 681 L516.6 682.1 L518 682.1 L736.6 683.7 L738 683.7 L956.6 684.6 L958 684.6 L1176.6 684.9 L1178 688.4 L1393.5 686.9 L1393.5 691 L78 691 Z" fill="#f7b80a" fill-opacity="0.25" stroke="none"/>
<use href="#L6" transform="translate(1,1)" stroke="#000" stroke-opacity="0.05" stroke-width="5"/>
<use href="#L6" transform="translate(1,1)" stroke="#000" stroke-opacity="0.1" stroke-width="3"/>
<use href="#L6" transform="translate(1,1)" stroke="#000" stroke-opacity="0.15" stroke-width="1"/>
<use href="#L6" stroke="#f7b80a" stroke-width="2.5"/>
<path d="M78 678.7 L124.8 682.6 L296.6 682.6 L298 682.6 L516.6 683.1 L518 683.1 L736.6 684.2 L738 684.2 L847.3 684.6 L894.1 682.6 L956.6 682.6 L958 682.6 L973.6 682.1 L1020.5 682.6 L1114.1 683.1 L1176.6 683.1 L1178 682.5 L1276.4 683.4 L1341.9 684.6 L1393.5 685.7 L1393.5 691 L78 691 Z" fill="#ff6600" fill-opacity="0.25" stroke="none"/>
<use href="#L7" transform="translate(1,1)" stroke="#000" stroke-opacity="0.05" stroke-width="5"/>
<use href="#L7" transform="translate(1,1)" stroke="#000" stroke-opacity="0.1" stroke-width="3"/>
<use href="#L7" transform="translate(1,1)" stroke="#000" stroke-opacity="0.15" stroke-width="1"/>
<use href="#L7" stroke="#ff6600" stroke-width="2.5"/>
<path d="M78 676.4 L81.1 674.3 L87.4 677.1 L96.7 678.4 L109.2 677.9 L124.8 677.5 L140.5 678.7 L171.7 679.5 L218.5 680.3 L296.6 680.6 L298 680.6 L329.2 681 L349.5 682.6 L363.6 681 L391.7 681.5 L430.7 681.5 L446.3 680.3 L460.4 678.7 L477.6 677.5 L488.5 677.1 L497.9 677.9 L508.8 678.4 L516.6 679.5 L518 678.7 L525 676.8 L533.6 677.9 L543 677.1 L553.9 678.7 L569.5 677.9 L580.5 678.7 L603.9 679.5 L617.9 679.5 L625.7 677.9 L632 676.4 L638.2 677.9 L658.5 678.7 L674.1 680 L705.4 681 L736.6 681 L738 681 L752.1 679.5 L769.2 680.6 L800.5 681 L831.7 682.1 L859.8 681.5 L870.7 681.8 L894.1 683.4 L925.4 683.7 L941 683.4 L951.9 681.8 L956.6 682.6 L958 683.1 L989.2 682.6 L1051.7 683.4 L1114.1 684.2 L1176.6 684.6 L1178 683.4 L1276.4 684.6 L1338.7 685.1 L1341.9 683.8 L1358.3 684.6 L1393.5 684.8 L1393.5 691 L78 691 Z" fill="#000000" fill-opacity="0.25" stroke="none"/>
<use href="#L8" transform="translate(1,1)" stroke="#000" stroke-opacity="0.05" stroke-width="5"/>
<use href="#L8" transform="translate(1,1)" stroke="#000" stroke-opacity="0.1" stroke-width="3"/>
<use href="#L8" transform="translate(1,1)" stroke="#000" stroke-opacity="0.15" stroke-width="1"/>
<use href="#L8" stroke="#000000" stroke-width="2.5"/>
<path d="M78 683.4 L93.6 683.1 L104.5 683.4 L110.8 681 L123.3 680.3 L130.3 675.9 L140.5 675.9 L156.1 677.1 L179.5 676.8 L183.4 674 L196.7 674.8 L209.2 676.4 L212.3 674.3 L221.6 674.3 L234.1 675.6 L249.8 675.3 L273.2 675.3 L288.8 673.2 L296.6 674.3 L298 674.8 L313.6 677.1 L344.8 678.7 L354.2 678.7 L363.6 677.5 L379.2 678.7 L407.3 679.5 L430.7 680 L438.5 678.4 L447.9 677.9 L469.8 678.7 L485.4 679.5 L507.2 680 L510.3 677.9 L516.6 678.7 L518 678.7 L533.6 680.3 L564.8 681.5 L627.3 681.8 L689.8 682.1 L736.6 683.1 L738 683.4 L752.1 681.8 L784.8 683.1 L831.7 684.2 L878.5 684.6 L909.8 685.7 L956.6 685.7 L958 686.2 L989.2 685.3 L1067.3 686.2 L1176.6 686.5 L1178 686.2 L1325.6 687.1 L1393.5 687.7 L1393.5 691 L78 691 Z" fill="#9ad30f" fill-opacity="0.25" stroke="none"/>
<use href="#L9" transform="translate(1,1)" stroke="#000" stroke-opacity="0.05" stroke-width="5"/>
<use href="#L9" transform="translate(1,1)" stroke="#000" stroke-opacity="0.1" stroke-width="3"/>
<use href="#L9" transform="translate(1,1)" stroke="#000" stroke-opacity="0.15" stroke-width="1"/>
<use href="#L9" stroke="#9ad30f" stroke-width="2.5"/>
<path d="M78 520.4 L83 510.2 L87.1 508.6 L92.1 495.4 L95 501.1 L100.7 490.4 L107.5 481.8 L112.1 480.2 L117.7 487.5 L122.3 476.8 L126.8 483.6 L131.4 490.4 L136.6 500 L140.5 490.4 L143.9 488.6 L150.7 482.5 L156.4 488.6 L160.9 488.2 L165.4 481.3 L173.4 475 L177.9 477.7 L183.6 484.1 L187 487.5 L191.1 483.6 L195.6 492 L201.8 489.1 L208.6 498.8 L212.4 493.2 L217.7 496.6 L223.8 492.5 L227.9 496.1 L234.7 496.6 L241.5 497.7 L250.6 498.4 L258.6 504.5 L264.2 513.1 L271 511.3 L283.5 510.9 L291.5 518.1 L299.4 522.2 L314.2 526.8 L323.3 531.3 L332.4 532.2 L340.3 530.6 L350.5 534.5 L358.5 539.7 L361.9 530.6 L367.6 524.9 L375.5 522.2 L384.6 518.1 L391.4 517.7 L398 517 L405.9 513.6 L412.8 510.9 L419.6 510.9 L426.4 506.8 L436.6 504.5 L445.7 496.6 L457 494.3 L466.1 488.6 L474.1 481.8 L482 487.5 L487.7 484.1 L493.4 479.5 L497.9 478.4 L504.7 469.3 L511.6 456.8 L515 459.5 L520.6 455 L525.2 460.9 L529.7 467 L537 472.7 L541.1 469.3 L544.5 461.4 L547.9 470.4 L551.3 471.6 L557 476.1 L562.7 472 L568.3 473.8 L577.4 478.4 L586.5 473.8 L592.2 474.5 L599 481.8 L602.4 476.1 L611.5 476.8 L617.2 480.7 L621.7 478.4 L631.9 477.3 L636 472 L642.1 477.7 L650.1 478.4 L659.2 480.7 L666 488.6 L668.3 487.5 L673.9 492.7 L679.6 489.1 L689.8 490.9 L700.1 493.6 L708 497.7 L718 503.4 L724.8 505.6 L733.9 505.6 L745.3 498.8 L752.1 495 L756.6 498.1 L766.8 497.7 L773.6 502.7 L781.6 505 L788.4 501.8 L796.4 500 L804.3 498.8 L811.1 506.8 L816.8 505 L824.7 515.4 L829.3 510.2 L842.9 511.3 L852 517.7 L858.8 523.1 L867.9 520 L875.8 519.3 L880.4 523.1 L886.1 521.5 L892.9 527.2 L902 536.3 L907.6 535.2 L912.2 524.9 L916.7 528.4 L921.3 527.7 L931.5 531.8 L942.8 529 L951.9 524.9 L966.7 522.7 L972.4 524.9 L976.9 524.5 L982.6 528.4 L987.1 525.6 L995.1 527.7 L999.6 527.2 L1007.6 529.9 L1013.2 528.4 L1021.2 527.7 L1028 529.5 L1038 528.4 L1043.7 531.1 L1047.1 528.4 L1060.7 528.8 L1074.3 529.5 L1092.5 524.9 L1101.6 522.7 L1109.5 522.2 L1114.1 526.8 L1128.8 527.2 L1137.9 524.9 L1151.6 522.7 L1168.6 522.2 L1197 522.7 L1242.4 522.2 L1287.8 523.1 L1333.2 522.2 L1358 521.8 L1361.8 519.2 L1375.4 519.9 L1384.4 522.6 L1393.4 524.4 L1393.5 524.4 L1393.5 691 L78 691 Z" fill="#dddddd" fill-opacity="0.25" stroke="none"/>
<use href="#L10" transform="translate(1,1)" stroke="#000" stroke-opacity="0.05" stroke-width="5"/>
<use href="#L10" transform="translate(1,1)" stroke="#000" stroke-opacity="0.1" stroke-width="3"/>
<use href="#L10" transform="translate(1,1)" stroke="#000" stroke-opacity="0.15" stroke-width="1"/>
<use href="#L10" stroke="#dddddd" stroke-width="2.9"/>
</g>
<path d="M78 691 H1393.5" stroke="#ccd6eb" stroke-width="1" fill="none"/>
<path d="M188.5 691 V702.5" stroke="#ccd6eb" stroke-width="1" fill="none"/>
<text x="189" y="715" text-anchor="middle" font-size="15" fill="#444" letter-spacing="0.2">2月 '18</text>
<path d="M291.5 691 V702.5" stroke="#ccd6eb" stroke-width="1" fill="none"/>
<text x="291.7" y="715" text-anchor="middle" font-size="15" fill="#444" letter-spacing="0.2">3月 '18</text>
<path d="M403.5 691 V702.5" stroke="#ccd6eb" stroke-width="1" fill="none"/>
<text x="404" y="715" text-anchor="middle" font-size="15" fill="#444" letter-spacing="0.2">4月 '18</text>
<path d="M513.5 691 V702.5" stroke="#ccd6eb" stroke-width="1" fill="none"/>
<text x="514.3" y="715" text-anchor="middle" font-size="15" fill="#444" letter-spacing="0.2">5月 '18</text>
<path d="M626.5 691 V702.5" stroke="#ccd6eb" stroke-width="1" fill="none"/>
<text x="627" y="715" text-anchor="middle" font-size="15" fill="#444" letter-spacing="0.2">6月 '18</text>
<path d="M734.5 691 V702.5" stroke="#ccd6eb" stroke-width="1" fill="none"/>
<text x="735.3" y="715" text-anchor="middle" font-size="15" fill="#444" letter-spacing="0.2">7月 '18</text>
<path d="M848.5 691 V702.5" stroke="#ccd6eb" stroke-width="1" fill="none"/>
<text x="849.3" y="715" text-anchor="middle" font-size="15" fill="#444" letter-spacing="0.2">8月 '18</text>
<path d="M961.5 691 V702.5" stroke="#ccd6eb" stroke-width="1" fill="none"/>
<text x="962.3" y="715" text-anchor="middle" font-size="15" fill="#444" letter-spacing="0.2">9月 '18</text>
<path d="M1070.5 691 V702.5" stroke="#ccd6eb" stroke-width="1" fill="none"/>
<text x="1071.3" y="715" text-anchor="middle" font-size="15" fill="#444" letter-spacing="0.2">10月 '18</text>
<path d="M1184.5 691 V702.5" stroke="#ccd6eb" stroke-width="1" fill="none"/>
<text x="1185.3" y="715" text-anchor="middle" font-size="15" fill="#444" letter-spacing="0.2">11月 '18</text>
<path d="M1293.5 691 V702.5" stroke="#ccd6eb" stroke-width="1" fill="none"/>
<text x="1294.3" y="715" text-anchor="middle" font-size="15" fill="#444" letter-spacing="0.2">12月 '18</text>
<path d="M1393.5 172 V691" stroke="#cccccc" stroke-width="1" fill="none"/>
<circle cx="1393.5" cy="233.6" r="12.2" fill="#f7931a" fill-opacity="0.25"/>
<circle cx="1393.5" cy="233.6" r="4.2" fill="#f7931a" stroke="#fff" stroke-width="1.3"/>
<circle cx="1393.5" cy="604.4" r="12.2" fill="#454a75" fill-opacity="0.25"/>
<path d="M1393.5 599.4 L1398.5 604.4 L1393.5 609.4 L1388.5 604.4Z" fill="#454a75" stroke="#fff" stroke-width="1.3"/>
<circle cx="1393.5" cy="672.3" r="12.2" fill="#478e2b" fill-opacity="0.25"/>
<rect x="1388.8" y="667.5999999999999" width="9.4" height="9.4" fill="#478e2b" stroke="#fff" stroke-width="1.3"/>
<circle cx="1393.5" cy="678.8" r="12.2" fill="#838383" fill-opacity="0.25"/>
<path d="M1393.5 673.8 L1398.5 683.8 L1388.5 683.8Z" fill="#838383" stroke="#fff" stroke-width="1.3"/>
<circle cx="1393.5" cy="591.3" r="12.2" fill="#23a5dc" fill-opacity="0.25"/>
<path d="M1388.5 586.3 L1398.5 586.3 L1393.5 596.3Z" fill="#23a5dc" stroke="#fff" stroke-width="1.3"/>
<circle cx="1393.5" cy="686.3" r="12.2" fill="#0f72b9" fill-opacity="0.25"/>
<circle cx="1393.5" cy="686.3" r="4.2" fill="#0f72b9" stroke="#fff" stroke-width="1.3"/>
<circle cx="1393.5" cy="686.9" r="12.2" fill="#f7b80a" fill-opacity="0.25"/>
<path d="M1393.5 681.9 L1398.5 686.9 L1393.5 691.9 L1388.5 686.9Z" fill="#f7b80a" stroke="#fff" stroke-width="1.3"/>
<circle cx="1393.5" cy="685.7" r="12.2" fill="#ff6600" fill-opacity="0.25"/>
<rect x="1388.8" y="681.0" width="9.4" height="9.4" fill="#ff6600" stroke="#fff" stroke-width="1.3"/>
<circle cx="1393.5" cy="684.7" r="12.2" fill="#000000" fill-opacity="0.25"/>
<path d="M1393.5 679.7 L1398.5 689.7 L1388.5 689.7Z" fill="#000000" stroke="#fff" stroke-width="1.3"/>
<circle cx="1393.5" cy="687.7" r="12.2" fill="#9ad30f" fill-opacity="0.25"/>
<path d="M1388.5 682.7 L1398.5 682.7 L1393.5 692.7Z" fill="#9ad30f" stroke="#fff" stroke-width="1.3"/>
<circle cx="1393.5" cy="525" r="12.2" fill="#dddddd" fill-opacity="0.25"/>
<circle cx="1393.5" cy="525" r="4.2" fill="#dddddd" stroke="#fff" stroke-width="1.3"/>
<g>
<rect x="1170.5" y="273.5" width="206" height="272" rx="3" fill="none" stroke="#000" stroke-opacity="0.05" stroke-width="5"/>
<rect x="1170.5" y="273.5" width="206" height="272" rx="3" fill="none" stroke="#000" stroke-opacity="0.1" stroke-width="3"/>
<rect x="1170.5" y="273.5" width="206" height="272" rx="3" fill="none" stroke="#000" stroke-opacity="0.15" stroke-width="1"/>
<rect x="1169.5" y="272.5" width="206" height="272" rx="3" fill="#ffffff" fill-opacity="0.95"/>
<text x="1184" y="303" font-size="12" fill="#333">金曜日<tspan letter-spacing="0.95">, 12</tspan>月<tspan letter-spacing="0.95"> 28, 08:32</tspan></text>
<circle cx="1189.6" cy="318.5" r="4.5" fill="#f7931a"/>
<text x="1202" y="322.5" font-size="16" fill="#333" letter-spacing="0.75">Bitcoin: <tspan font-weight="bold">52.88%</tspan></text>
<circle cx="1189.6" cy="338.5" r="4.5" fill="#454a75"/>
<text x="1202" y="342.5" font-size="16" fill="#333" letter-spacing="0.75">Ethereum: <tspan font-weight="bold">10.05%</tspan></text>
<circle cx="1189.6" cy="358.5" r="4.5" fill="#478e2b"/>
<text x="1202" y="362.5" font-size="16" fill="#333" letter-spacing="0.75">Bitcoin Cash: <tspan font-weight="bold">2.17%</tspan></text>
<circle cx="1189.6" cy="378.5" r="4.5" fill="#838383"/>
<text x="1202" y="382.5" font-size="16" fill="#333" letter-spacing="0.75">Litecoin: <tspan font-weight="bold">1.41%</tspan></text>
<circle cx="1189.6" cy="398.5" r="4.5" fill="#23a5dc"/>
<text x="1202" y="402.5" font-size="16" fill="#333" letter-spacing="0.75">XRP: <tspan font-weight="bold">11.51%</tspan></text>
<circle cx="1189.6" cy="418.5" r="4.5" fill="#0f72b9"/>
<text x="1202" y="422.5" font-size="16" fill="#333" letter-spacing="0.75">Dash: <tspan font-weight="bold">0.54%</tspan></text>
<circle cx="1189.6" cy="438.5" r="4.5" fill="#f7b80a"/>
<text x="1202" y="442.5" font-size="16" fill="#333" letter-spacing="0.75">NEM: <tspan font-weight="bold">0.48%</tspan></text>
<circle cx="1189.6" cy="458.5" r="4.5" fill="#ff6600"/>
<text x="1202" y="462.5" font-size="16" fill="#333" letter-spacing="0.75">Monero: <tspan font-weight="bold">0.61%</tspan></text>
<circle cx="1189.6" cy="478.5" r="4.5" fill="#000000"/>
<text x="1202" y="482.5" font-size="16" fill="#333" letter-spacing="0.75">IOTA: <tspan font-weight="bold">0.73%</tspan></text>
<circle cx="1189.6" cy="498.5" r="4.5" fill="#9ad30f"/>
<text x="1202" y="502.5" font-size="16" fill="#333" letter-spacing="0.75">NEO: <tspan font-weight="bold">0.38%</tspan></text>
<circle cx="1189.6" cy="518.5" r="4.5" fill="#dddddd"/>
<text x="1202" y="522.5" font-size="16" fill="#333" letter-spacing="0.75">Others: <tspan font-weight="bold">19.24%</tspan></text>
</g>
<g clip-path="url(#nc)">
<path d="M95.6 757.1 L124.3 756.2 L153 757.8 L175.4 758.4 L191.4 759.4 L204.1 757.1 L220.1 756.2 L224.9 757.1 L229.7 761 L239.3 760.3 L248.9 761.6 L261.6 761 L280.8 761 L288.1 763.5 L293.6 761 L325.5 759.4 L357.4 758.4 L389.4 757.8 L405.3 759.4 L421.3 760 L446.9 759.4 L458 762.6 L467.6 768 L478.8 767.4 L498 765.8 L510.7 763.5 L520 762.6 L539.2 761 L558.3 760.3 L580.7 764.8 L596.7 762.6 L615.8 764.8 L641.4 762.6 L663.7 759.4 L686.1 758.7 L705.2 758.4 L718 761 L730.8 763.5 L746.1 768.3 L756.3 766.7 L769.1 764.8 L781.9 765.8 L789.9 768 L797.9 766.1 L810.6 764.8 L826.6 766.7 L845.8 767.4 L871.3 766.7 L890.5 764.2 L909.6 762.6 L925.6 761.6 L935.2 763.5 L951.2 763.2 L963.9 762.6 L968 764.1 L975.9 773 L982.3 775.3 L988.7 774.3 L998.2 776.9 L1007.8 784.8 L1014.2 788 L1019 788 L1028.5 794.4 L1039.7 792.2 L1055.6 786.4 L1062 789 L1066.8 786.4 L1076.3 789.6 L1087.5 788 L1100.2 785.8 L1109.8 781.6 L1116.1 778.5 L1122.5 784.8 L1128.9 782.6 L1138.5 778.5 L1144.8 785.8 L1151.2 792.8 L1157.6 796.6 L1167.1 797.6 L1179.9 796 L1189.4 792.8 L1202.2 790.3 L1211.7 789.6 L1221.3 794.4 L1230.9 796 L1240.4 794.4 L1246.8 793.4 L1253.2 794.4 L1265.9 791.2 L1275.5 790.3 L1288.2 785.8 L1297.8 784.8 L1308.9 782.6 L1316.9 784.8 L1329.7 783.9 L1348.8 784.8 L1361.5 783.9 L1369.5 783.2 L1375.2 783.2 L1375.2 802 L95.6 802 Z" fill="#f7931a" fill-opacity="0.1" stroke="none"/>
<path d="M95.6 757.1 L124.3 756.2 L153 757.8 L175.4 758.4 L191.4 759.4 L204.1 757.1 L220.1 756.2 L224.9 757.1 L229.7 761 L239.3 760.3 L248.9 761.6 L261.6 761 L280.8 761 L288.1 763.5 L293.6 761 L325.5 759.4 L357.4 758.4 L389.4 757.8 L405.3 759.4 L421.3 760 L446.9 759.4 L458 762.6 L467.6 768 L478.8 767.4 L498 765.8 L510.7 763.5 L520 762.6 L539.2 761 L558.3 760.3 L580.7 764.8 L596.7 762.6 L615.8 764.8 L641.4 762.6 L663.7 759.4 L686.1 758.7 L705.2 758.4 L718 761 L730.8 763.5 L746.1 768.3 L756.3 766.7 L769.1 764.8 L781.9 765.8 L789.9 768 L797.9 766.1 L810.6 764.8 L826.6 766.7 L845.8 767.4 L871.3 766.7 L890.5 764.2 L909.6 762.6 L925.6 761.6 L935.2 763.5 L951.2 763.2 L963.9 762.6 L968 764.1 L975.9 773 L982.3 775.3 L988.7 774.3 L998.2 776.9 L1007.8 784.8 L1014.2 788 L1019 788 L1028.5 794.4 L1039.7 792.2 L1055.6 786.4 L1062 789 L1066.8 786.4 L1076.3 789.6 L1087.5 788 L1100.2 785.8 L1109.8 781.6 L1116.1 778.5 L1122.5 784.8 L1128.9 782.6 L1138.5 778.5 L1144.8 785.8 L1151.2 792.8 L1157.6 796.6 L1167.1 797.6 L1179.9 796 L1189.4 792.8 L1202.2 790.3 L1211.7 789.6 L1221.3 794.4 L1230.9 796 L1240.4 794.4 L1246.8 793.4 L1253.2 794.4 L1265.9 791.2 L1275.5 790.3 L1288.2 785.8 L1297.8 784.8 L1308.9 782.6 L1316.9 784.8 L1329.7 783.9 L1348.8 784.8 L1361.5 783.9 L1369.5 783.2 L1375.2 783.2" transform="translate(1,1)" fill="none" stroke="#000" stroke-opacity="0.08" stroke-width="3" stroke-linejoin="round"/>
<path d="M95.6 757.1 L124.3 756.2 L153 757.8 L175.4 758.4 L191.4 759.4 L204.1 757.1 L220.1 756.2 L224.9 757.1 L229.7 761 L239.3 760.3 L248.9 761.6 L261.6 761 L280.8 761 L288.1 763.5 L293.6 761 L325.5 759.4 L357.4 758.4 L389.4 757.8 L405.3 759.4 L421.3 760 L446.9 759.4 L458 762.6 L467.6 768 L478.8 767.4 L498 765.8 L510.7 763.5 L520 762.6 L539.2 761 L558.3 760.3 L580.7 764.8 L596.7 762.6 L615.8 764.8 L641.4 762.6 L663.7 759.4 L686.1 758.7 L705.2 758.4 L718 761 L730.8 763.5 L746.1 768.3 L756.3 766.7 L769.1 764.8 L781.9 765.8 L789.9 768 L797.9 766.1 L810.6 764.8 L826.6 766.7 L845.8 767.4 L871.3 766.7 L890.5 764.2 L909.6 762.6 L925.6 761.6 L935.2 763.5 L951.2 763.2 L963.9 762.6 L968 764.1 L975.9 773 L982.3 775.3 L988.7 774.3 L998.2 776.9 L1007.8 784.8 L1014.2 788 L1019 788 L1028.5 794.4 L1039.7 792.2 L1055.6 786.4 L1062 789 L1066.8 786.4 L1076.3 789.6 L1087.5 788 L1100.2 785.8 L1109.8 781.6 L1116.1 778.5 L1122.5 784.8 L1128.9 782.6 L1138.5 778.5 L1144.8 785.8 L1151.2 792.8 L1157.6 796.6 L1167.1 797.6 L1179.9 796 L1189.4 792.8 L1202.2 790.3 L1211.7 789.6 L1221.3 794.4 L1230.9 796 L1240.4 794.4 L1246.8 793.4 L1253.2 794.4 L1265.9 791.2 L1275.5 790.3 L1288.2 785.8 L1297.8 784.8 L1308.9 782.6 L1316.9 784.8 L1329.7 783.9 L1348.8 784.8 L1361.5 783.9 L1369.5 783.2 L1375.2 783.2" fill="none" stroke="#ea983c" stroke-width="2" stroke-linejoin="round"/>
</g>
<path d="M246.5 752 V802" stroke="#dcdcdc" stroke-width="1" fill="none"/>
<path d="M472.5 752 V802" stroke="#dcdcdc" stroke-width="1" fill="none"/>
<path d="M698.5 752 V802" stroke="#dcdcdc" stroke-width="1" fill="none"/>
<path d="M926.5 752 V802" stroke="#dcdcdc" stroke-width="1" fill="none"/>
<path d="M1151.5 752 V802" stroke="#dcdcdc" stroke-width="1" fill="none"/>
<text x="252" y="797" font-size="13.5" fill="#999" letter-spacing="1.3">2014</text>
<text x="478" y="797" font-size="13.5" fill="#999" letter-spacing="1.3">2015</text>
<text x="703.5" y="797" font-size="13.5" fill="#999" letter-spacing="1.3">2016</text>
<text x="931" y="797" font-size="13.5" fill="#999" letter-spacing="1.3">2017</text>
<text x="1157" y="797" font-size="13.5" fill="#999" letter-spacing="1.3">2018</text>
<rect x="1151.5" y="752" width="224" height="50" fill="#6685c2" fill-opacity="0.3"/>
<path d="M78 752.5 H1393.5" stroke="#cccccc" stroke-width="1" fill="none"/>
<rect x="77.5" y="802.5" width="1316" height="18" fill="#f2f2f2"/>
<rect x="1151.5" y="802.5" width="224.5" height="18" fill="#cccccc"/>
<path d="M1259.5 807 V814 M1262.5 807 V814 M1265.5 807 V814" stroke="#333" stroke-width="1" fill="none"/>
<rect x="77.5" y="802.5" width="18" height="18" fill="#e6e6e6" stroke="#cccccc" stroke-width="1"/>
<path d="M88.5 807.5 V815.5 L84.5 811.5Z" fill="#333"/>
<rect x="1376" y="802.5" width="17.5" height="18" fill="#e6e6e6" stroke="#cccccc" stroke-width="1"/>
<path d="M1383 807.5 V815.5 L1387 811.5Z" fill="#333"/>
<rect x="1146.5" y="768.5" width="10" height="18" rx="1" fill="#f2f2f2" stroke="#999999" stroke-width="1"/>
<path d="M1150.0 773 V782 M1153.0 773 V782" stroke="#999" stroke-width="1" fill="none"/>
<rect x="1370.5" y="768.5" width="10" height="18" rx="1" fill="#f2f2f2" stroke="#999999" stroke-width="1"/>
<path d="M1374.0 773 V782 M1377.0 773 V782" stroke="#999" stroke-width="1" fill="none"/>
<circle cx="156.3" cy="848.5" r="7.5" fill="#f7931a"/>
<text x="173.3" y="855" font-size="15.4" font-weight="bold" fill="#6f96c8">Bitcoin</text>
<circle cx="259" cy="848.5" r="7.5" fill="#454a75"/>
<text x="276.3" y="855" font-size="15.4" font-weight="bold" fill="#6f96c8">Ethereum</text>
<circle cx="382.7" cy="848.5" r="7.5" fill="#478e2b"/>
<text x="400" y="855" font-size="15.4" font-weight="bold" fill="#6f96c8">Bitcoin Cash</text>
<circle cx="527.3" cy="848.5" r="7.5" fill="#838383"/>
<text x="544.7" y="855" font-size="15.4" font-weight="bold" fill="#6f96c8">Litecoin</text>
<circle cx="638.3" cy="848.5" r="7.5" fill="#23a5dc"/>
<text x="655" y="855" font-size="15.4" font-weight="bold" fill="#6f96c8">XRP</text>
<circle cx="720" cy="848.5" r="7.5" fill="#0f72b9"/>
<text x="737" y="855" font-size="15.4" font-weight="bold" fill="#6f96c8">Dash</text>
<circle cx="809.3" cy="848.5" r="7.5" fill="#f7b80a"/>
<text x="826.3" y="855" font-size="15.4" font-weight="bold" fill="#6f96c8">NEM</text>
<circle cx="893.3" cy="848.5" r="7.5" fill="#ff6600"/>
<text x="910.7" y="855" font-size="15.4" font-weight="bold" fill="#6f96c8">Monero</text>
<circle cx="1002.7" cy="848.5" r="7.5" fill="#000000"/>
<text x="1019.7" y="855" font-size="15.4" font-weight="bold" fill="#6f96c8">IOTA</text>
<circle cx="1092.3" cy="848.5" r="7.5" fill="#9ad30f"/>
<text x="1109.7" y="855" font-size="15.4" font-weight="bold" fill="#6f96c8">NEO</text>
<circle cx="1176.7" cy="848.5" r="7.5" fill="#dddddd"/>
<text x="1194" y="855" font-size="15.4" font-weight="bold" fill="#6f96c8">Others</text>
<text x="1394" y="881.5" text-anchor="end" font-size="12" fill="#8a8a8a" letter-spacing="0.2">coinmarketcap.com</text>
</svg></body></html>
